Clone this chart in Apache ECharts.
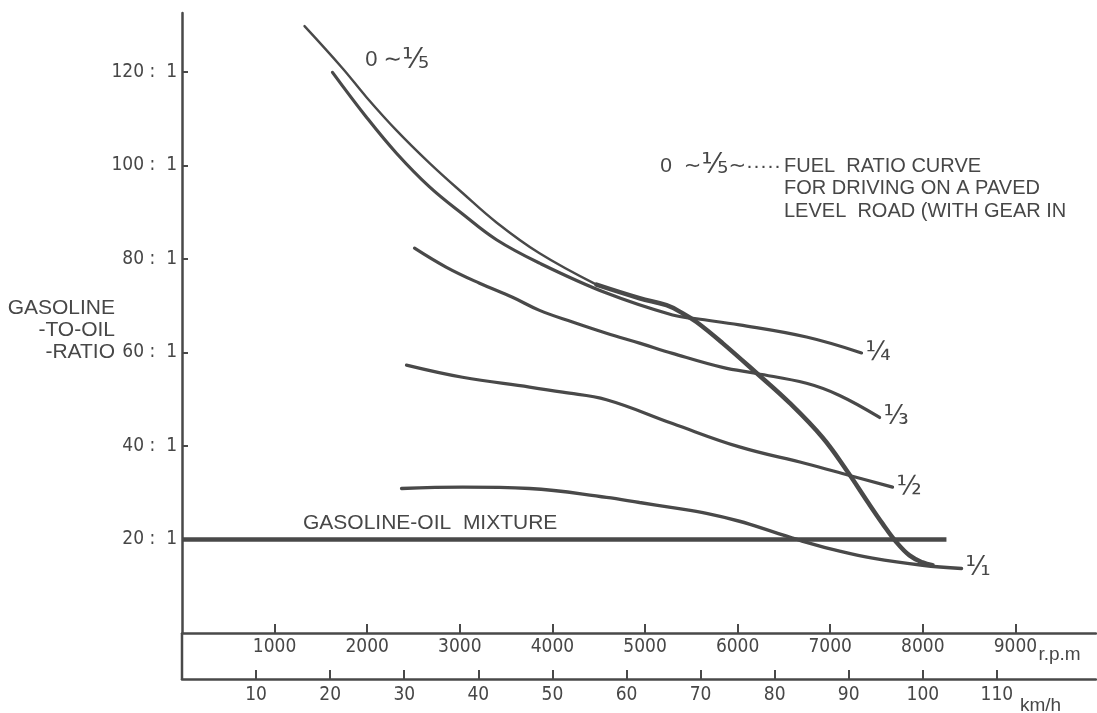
<!DOCTYPE html>
<html>
<head>
<meta charset="utf-8">
<script src="https://cdn.jsdelivr.net/npm/echarts@6/dist/echarts.min.js"></script>
<style>
html,body{margin:0;padding:0;background:#fff;}
#main{width:1097px;height:713px;}
</style>
</head>
<body>
<div id="main"></div>
<script>
// ---- tick labels ----
const rpmTicks = [1000, 2000, 3000, 4000, 5000, 6000, 7000, 8000, 9000];
const kmhTicks = [10, 20, 30, 40, 50, 60, 70, 80, 90, 100, 110];
const ratioTicks = [20, 40, 60, 80, 100, 120];

// ---- series values: [rpm, gasoline-to-oil ratio (x : 1)] ----
const curveFifthUpper = [[1323,129.8],[1733,120.8],[1992,114.6],[2316,107.5],[2673,100.5],[3030,94.1],[3396,87.8],[3861,81.2],[4476,74.5]];
const curveFifthLower = [[4476,74.5],[4941,71.6],[5232,70.1],[5405,68.4],[5556,66.5],[5837,62.0],[6204,55.6],[6561,49.2],[6917,41.8],[7176,34.8],[7392,28.4],[7565,23.4],[7716,19.4],[7856,16.6],[7996,15.1],[8105,14.5]];
const curveQuarter = [[1625,119.9],[1992,110.3],[2316,102.6],[2673,95.4],[3030,89.6],[3396,84.1],[3861,79.1],[4584,72.7],[5297,68.0],[5556,67.2],[6020,65.9],[6744,63.3],[7338,59.9]];
const curveThird = [[2511,82.3],[2856,78.2],[3213,74.8],[3569,71.8],[3861,69.0],[4217,66.5],[4584,64.1],[4941,62.0],[5297,59.8],[5837,56.8],[6204,55.5],[6744,53.4],[7101,50.8],[7533,46.1]];
const curveHalf = [[2424,57.3],[3029,54.7],[3753,52.6],[4110,51.5],[4584,49.9],[5297,44.8],[6020,39.8],[6744,36.2],[7208,33.7],[7673,31.2]];
const curveFull = [[2371,30.9],[3029,31.2],[3753,30.9],[4584,29.0],[4941,27.9],[5297,26.8],[5664,25.6],[6020,23.9],[6377,21.7],[6744,19.4],[7101,17.5],[7457,16.0],[7997,14.5],[8418,13.8]];
const mixtureLine = [[0,20],[8255,20]];

const INK = '#494949';
const TXT = '#474747';
const numFont = '"DejaVu Sans Condensed", "Liberation Sans Narrow", "Liberation Sans", sans-serif';
const txtFont = '"Liberation Sans", "DejaVu Sans", sans-serif';

const chart = echarts.init(document.getElementById('main'), null, {renderer: 'canvas'});

function lineSeries(name, data, width, endText) {
  const s = {
    name: name, type: 'line', data: data, smooth: 0.4, symbol: 'none',
    xAxisIndex: 0, yAxisIndex: 0,
    lineStyle: {color: INK, width: width, cap: 'round'},
    animation: false, z: 3
  };
  if (endText) {
    s.endLabel = {show: true, formatter: endText, color: TXT, fontFamily: '"DejaVu Sans", sans-serif', fontSize: 26, distance: 4};
  }
  return s;
}

const axisLineStyle = {color: INK, width: 2.5};
const numLabel = {color: TXT, fontFamily: numFont, fontSize: 19};

chart.setOption({
  backgroundColor: '#ffffff',
  animation: false,
  grid: {left: 182, right: 1, top: 13, bottom: 80, outerBoundsMode: 'none', containLabel: false},
  xAxis: [
    {
      type: 'value', min: 0, max: 9870, interval: 1000, position: 'bottom',
      axisLine: {show: true, onZero: false, lineStyle: axisLineStyle},
      axisTick: {show: true, inside: true, length: 9, customValues: rpmTicks, lineStyle: {color: INK, width: 2}},
      axisLabel: Object.assign({show: true, customValues: rpmTicks, margin: 5,
        formatter: function (v) { return String(v); }}, numLabel),
      splitLine: {show: false}
    },
    {
      type: 'value', min: 0, max: 9870 / 80, interval: 10, position: 'bottom', offset: 46,
      axisLine: {show: true, onZero: false, lineStyle: axisLineStyle},
      axisTick: {show: true, inside: true, length: 9, customValues: kmhTicks, lineStyle: {color: INK, width: 2}},
      axisLabel: Object.assign({show: true, customValues: kmhTicks, margin: 7,
        formatter: function (v) { return String(v); }}, numLabel),
      splitLine: {show: false}
    }
  ],
  yAxis: [{
    type: 'value', min: 0, max: 132.6, interval: 20,
    axisLine: {show: true, lineStyle: axisLineStyle},
    axisTick: {show: true, inside: true, length: 6, customValues: ratioTicks, lineStyle: {color: INK, width: 2}},
    axisLabel: Object.assign({show: true, customValues: ratioTicks, margin: 5,
      formatter: function (v) { return v + ' :  1'; }}, numLabel),
    splitLine: {show: false}
  }],
  series: [
    lineSeries('0~1/5 a', curveFifthUpper, 2.4),
    lineSeries('0~1/5 b', curveFifthLower, 4.5),
    lineSeries('1/4', curveQuarter, 3.2, '¼'),
    lineSeries('1/3', curveThird, 3.2, '⅓'),
    lineSeries('1/2', curveHalf, 3.2, '½'),
    lineSeries('1/1', curveFull, 3.4, '¹⁄₁'),
    {
      name: 'mixture', type: 'line', data: mixtureLine, symbol: 'none', smooth: false,
      lineStyle: {color: INK, width: 4.5}, animation: false, z: 2
    }
  ]
});

// axis extension and annotation texts
const origin = chart.convertToPixel({xAxisIndex: 0, yAxisIndex: 0}, [0, 0]);
const lbl = chart.convertToPixel({xAxisIndex: 0, yAxisIndex: 0}, [2000, 122.5]);
const p9000 = chart.convertToPixel({xAxisIndex: 0, yAxisIndex: 0}, [9000, 0]);
const p110 = chart.convertToPixel({xAxisIndex: 1, yAxisIndex: 0}, [110, 0]);

const fracRich = {f: {fontSize: 28, fontFamily: '"DejaVu Sans", sans-serif', fill: TXT}};

function txt(x, y, s, size, align, rich) {
  const st = {text: s, fill: TXT, font: size + 'px ' + txtFont, textAlign: align || 'left', textVerticalAlign: 'middle'};
  if (rich) st.rich = rich;
  return {type: 'text', x: x, y: y, silent: true, style: st};
}

chart.setOption({
  graphic: [
    {type: 'line', silent: true, shape: {x1: origin[0], y1: origin[1], x2: origin[0], y2: origin[1] + 47},
      style: {stroke: INK, lineWidth: 2.5}},
    txt(lbl[0] - 2, lbl[1], '0 ∼{f|⅕}', 22, 'left', fracRich),
    txt(781, 166, '0  ∼{f|⅕}∼·····', 21, 'right', fracRich),
    txt(784, 166, 'FUEL  RATIO CURVE', 20),
    txt(784, 188, 'FOR DRIVING ON A PAVED', 20),
    txt(784, 211, 'LEVEL  ROAD (WITH GEAR IN', 20),
    txt(303, 523, 'GASOLINE-OIL  MIXTURE', 21),
    txt(115, 308, 'GASOLINE', 21, 'right'),
    txt(115, 330, '-TO-OIL', 21, 'right'),
    txt(115, 352, '-RATIO', 21, 'right'),
    txt(p9000[0] + 23, 655, 'r.p.m', 19),
    txt(p110[0] + 23, 706, 'km/h', 19)
  ]
});
</script>
</body>
</html>
